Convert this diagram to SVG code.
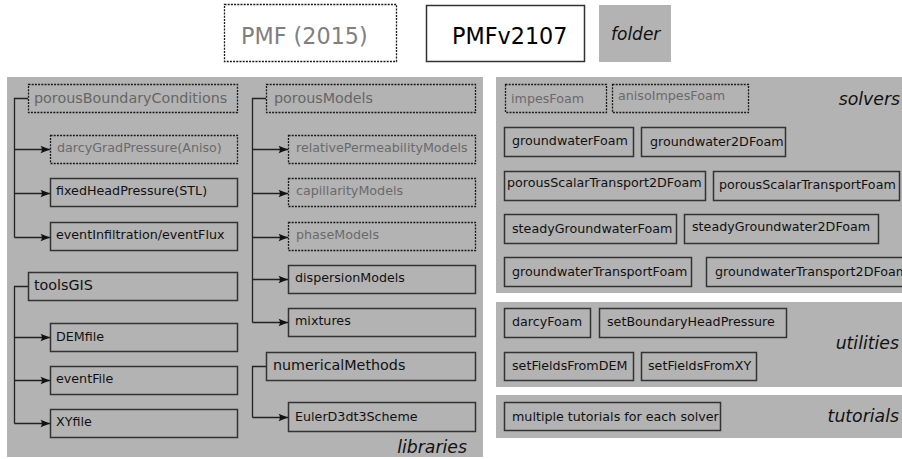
<svg xmlns="http://www.w3.org/2000/svg" width="902" height="459" viewBox="0 0 902 459">
  <style>
    text { font-family: "DejaVu Sans", "Liberation Sans", sans-serif; }
    .panel { fill: #b3b3b3; stroke: none; }
    .box { fill: none; stroke: #333333; stroke-width: 1.5; }
    .dbox { fill: none; stroke: #1a1a1a; stroke-width: 1.3; stroke-dasharray: 2 1.2; }
    .big { font-size: 14.3px; fill: #111111; }
    .bigold { font-size: 14.3px; fill: #666666; }
    .sm { font-size: 12.7px; fill: #111111; }
    .smold { font-size: 12.7px; fill: #6a6a6a; }
    .cat { font-size: 17.3px; font-style: italic; fill: #111111; text-anchor: end; }
    .wire { fill: none; stroke: #222222; stroke-width: 1.3; }
  </style>
  <defs>
    <marker id="arr" viewBox="-10 -5 11 10" refX="0" refY="0" markerWidth="11" markerHeight="10" markerUnits="userSpaceOnUse" orient="auto">
      <path d="M0,0 L-9.5,-3.8 C-7.6,-1.4 -7.6,1.4 -9.5,3.8 Z" fill="#111111"/>
    </marker>
  </defs>

  <rect width="902" height="459" fill="#ffffff"/>

  <!-- legend -->
  <g id="legend-pmf2015">
    <rect class="dbox" x="224.5" y="4.5" width="172" height="57" fill="#ffffff"/>
    <text x="241" y="44" font-size="22.3" fill="#808080">PMF (2015)</text>
  </g>
  <g id="legend-pmfv2107">
    <rect class="box" x="426.5" y="5.5" width="158" height="56" fill="#ffffff"/>
    <text x="452" y="44" font-size="22.3" fill="#000000">PMFv2107</text>
  </g>
  <g id="legend-folder">
    <rect class="panel" x="599" y="5" width="72" height="57"/>
    <text x="611" y="40" font-size="17" font-style="italic" fill="#111111">folder</text>
  </g>

  <!-- folder panels -->
  <g id="libraries">
    <rect class="panel" x="7" y="77" width="476" height="380"/>
    <text class="cat" x="467" y="453">libraries</text>
  </g>
  <g id="solvers">
    <rect class="panel" x="496" y="77" width="406" height="216"/>
    <text class="cat" x="900" y="105">solvers</text>
  </g>
  <g id="utilities">
    <rect class="panel" x="496" y="302" width="406" height="85"/>
    <text class="cat" x="899" y="349">utilities</text>
  </g>
  <g id="tutorials">
    <rect class="panel" x="496" y="395" width="406" height="43"/>
    <text class="cat" x="899" y="422">tutorials</text>
  </g>

  <!-- tree connectors -->
  <g id="connectors">
    <path class="wire" d="M28,98.5 H14.5 V237.5"/>
    <path class="wire" d="M14.5,149.5 H50" marker-end="url(#arr)"/>
    <path class="wire" d="M14.5,193.5 H50" marker-end="url(#arr)"/>
    <path class="wire" d="M14.5,237.5 H50" marker-end="url(#arr)"/>

    <path class="wire" d="M28,286.5 H14.5 V423.5"/>
    <path class="wire" d="M14.5,337.5 H50" marker-end="url(#arr)"/>
    <path class="wire" d="M14.5,380.5 H50" marker-end="url(#arr)"/>
    <path class="wire" d="M14.5,423.5 H50" marker-end="url(#arr)"/>

    <path class="wire" d="M266,98.5 H252.5 V322.5"/>
    <path class="wire" d="M252.5,149.5 H288" marker-end="url(#arr)"/>
    <path class="wire" d="M252.5,193.5 H288" marker-end="url(#arr)"/>
    <path class="wire" d="M252.5,237.5 H288" marker-end="url(#arr)"/>
    <path class="wire" d="M252.5,279.5 H288" marker-end="url(#arr)"/>
    <path class="wire" d="M252.5,322.5 H288" marker-end="url(#arr)"/>

    <path class="wire" d="M266,366.5 H252.5 V417.5"/>
    <path class="wire" d="M252.5,417.5 H288" marker-end="url(#arr)"/>
  </g>

  <!-- libraries: porousBoundaryConditions -->
  <g id="porousBoundaryConditions">
    <rect class="dbox" x="28.5" y="84.5" width="209" height="28"/>
    <text class="bigold" x="34" y="102.5">porousBoundaryConditions</text>
  </g>
  <g id="darcyGradPressure">
    <rect class="dbox" x="50.5" y="135.5" width="187" height="28"/>
    <text class="smold" x="57" y="152">darcyGradPressure(Aniso)</text>
  </g>
  <g id="fixedHeadPressure">
    <rect class="box" x="50.5" y="178.5" width="187" height="28"/>
    <text class="sm" x="56" y="195">fixedHeadPressure(STL)</text>
  </g>
  <g id="eventInfiltration">
    <rect class="box" x="50.5" y="222.5" width="187" height="28"/>
    <text class="sm" x="56" y="239">eventInfiltration/eventFlux</text>
  </g>

  <!-- libraries: toolsGIS -->
  <g id="toolsGIS">
    <rect class="box" x="28.5" y="272.5" width="209" height="28"/>
    <text class="big" x="34" y="290">toolsGIS</text>
  </g>
  <g id="DEMfile">
    <rect class="box" x="50.5" y="323.5" width="187" height="28"/>
    <text class="sm" x="56" y="341">DEMfile</text>
  </g>
  <g id="eventFile">
    <rect class="box" x="50.5" y="366.5" width="187" height="28"/>
    <text class="sm" x="56" y="383">eventFile</text>
  </g>
  <g id="XYfile">
    <rect class="box" x="50.5" y="409.5" width="187" height="28"/>
    <text class="sm" x="56" y="426">XYfile</text>
  </g>

  <!-- libraries: porousModels -->
  <g id="porousModels">
    <rect class="dbox" x="266.5" y="84.5" width="209" height="28"/>
    <text class="bigold" x="274" y="102.5">porousModels</text>
  </g>
  <g id="relativePermeabilityModels">
    <rect class="dbox" x="288.5" y="135.5" width="187" height="28"/>
    <text class="smold" x="296" y="152">relativePermeabilityModels</text>
  </g>
  <g id="capillarityModels">
    <rect class="dbox" x="288.5" y="178.5" width="187" height="28"/>
    <text class="smold" x="296" y="195">capillarityModels</text>
  </g>
  <g id="phaseModels">
    <rect class="dbox" x="288.5" y="222.5" width="187" height="28"/>
    <text class="smold" x="296" y="239">phaseModels</text>
  </g>
  <g id="dispersionModels">
    <rect class="box" x="288.5" y="265.5" width="187" height="28"/>
    <text class="sm" x="295" y="282">dispersionModels</text>
  </g>
  <g id="mixtures">
    <rect class="box" x="288.5" y="308.5" width="187" height="28"/>
    <text class="sm" x="295" y="325">mixtures</text>
  </g>

  <!-- libraries: numericalMethods -->
  <g id="numericalMethods">
    <rect class="box" x="266.5" y="352.5" width="209" height="28"/>
    <text class="big" x="273" y="370">numericalMethods</text>
  </g>
  <g id="EulerD3dt3Scheme">
    <rect class="box" x="288.5" y="402.5" width="187" height="29"/>
    <text class="sm" x="295" y="421">EulerD3dt3Scheme</text>
  </g>

  <!-- solvers -->
  <g id="impesFoam">
    <rect class="dbox" x="505.5" y="84.5" width="101" height="28"/>
    <text class="smold" x="511" y="103">impesFoam</text>
  </g>
  <g id="anisoImpesFoam">
    <rect class="dbox" x="612.5" y="84.5" width="136" height="28"/>
    <text class="smold" x="618" y="100">anisoImpesFoam</text>
  </g>
  <g id="groundwaterFoam">
    <rect class="box" x="504.5" y="127.5" width="129" height="29"/>
    <text class="sm" x="512" y="145">groundwaterFoam</text>
  </g>
  <g id="groundwater2DFoam">
    <rect class="box" x="641.5" y="127.5" width="144" height="29"/>
    <text class="sm" x="650" y="146">groundwater2DFoam</text>
  </g>
  <g id="porousScalarTransport2DFoam">
    <rect class="box" x="504.5" y="171.5" width="201" height="29"/>
    <text class="sm" x="507" y="187">porousScalarTransport2DFoam</text>
  </g>
  <g id="porousScalarTransportFoam">
    <rect class="box" x="713.5" y="171.5" width="186" height="29"/>
    <text class="sm" x="719" y="189">porousScalarTransportFoam</text>
  </g>
  <g id="steadyGroundwaterFoam">
    <rect class="box" x="504.5" y="214.5" width="172" height="29"/>
    <text class="sm" x="512" y="233">steadyGroundwaterFoam</text>
  </g>
  <g id="steadyGroundwater2DFoam">
    <rect class="box" x="684.5" y="214.5" width="194" height="29"/>
    <text class="sm" x="692" y="231">steadyGroundwater2DFoam</text>
  </g>
  <g id="groundwaterTransportFoam">
    <rect class="box" x="504.5" y="257.5" width="187" height="29"/>
    <text class="sm" x="512" y="276">groundwaterTransportFoam</text>
  </g>
  <g id="groundwaterTransport2DFoam">
    <rect class="box" x="706.5" y="257.5" width="220" height="29"/>
    <text class="sm" x="715" y="276">groundwaterTransport2DFoam</text>
  </g>

  <!-- utilities -->
  <g id="darcyFoam">
    <rect class="box" x="504.5" y="308.5" width="86" height="29"/>
    <text class="sm" x="512" y="326">darcyFoam</text>
  </g>
  <g id="setBoundaryHeadPressure">
    <rect class="box" x="599.5" y="308.5" width="187" height="29"/>
    <text class="sm" x="607" y="326">setBoundaryHeadPressure</text>
  </g>
  <g id="setFieldsFromDEM">
    <rect class="box" x="504.5" y="352.5" width="129" height="28"/>
    <text class="sm" x="512" y="370">setFieldsFromDEM</text>
  </g>
  <g id="setFieldsFromXY">
    <rect class="box" x="641.5" y="352.5" width="115" height="28"/>
    <text class="sm" x="648" y="370">setFieldsFromXY</text>
  </g>

  <!-- tutorials -->
  <g id="multipleTutorials">
    <rect class="box" x="504.5" y="402.5" width="216" height="28"/>
    <text class="sm" x="512" y="421">multiple tutorials for each solver</text>
  </g>
</svg>
